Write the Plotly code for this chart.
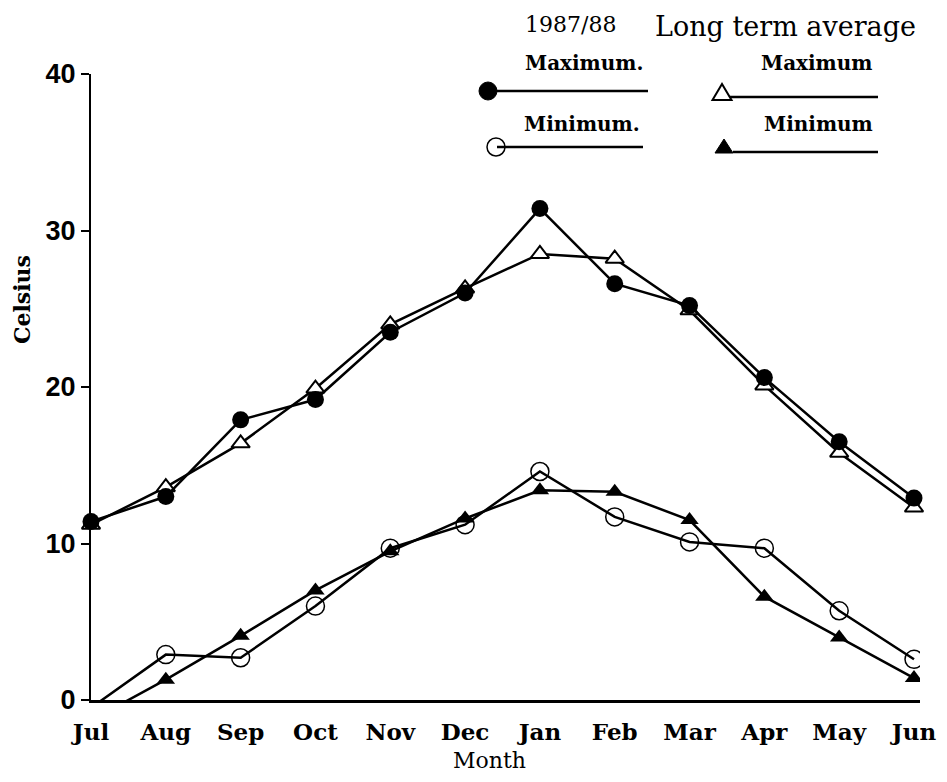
import plotly.graph_objects as go

# ---- data ----
months = ["Jul", "Aug", "Sep", "Oct", "Nov", "Dec", "Jan", "Feb", "Mar", "Apr", "May", "Jun"]
max_1987_88 = [11.4, 13.0, 17.9, 19.2, 23.5, 26.0, 31.4, 26.6, 25.2, 20.6, 16.5, 12.9]
max_long_term = [11.2, 13.6, 16.4, 19.9, 24.0, 26.3, 28.5, 28.2, 24.9, 20.1, 15.8, 12.3]
min_1987_88 = [-0.5, 2.9, 2.7, 6.0, 9.7, 11.2, 14.6, 11.7, 10.1, 9.7, 5.7, 2.6]
min_long_term = [-1.3, 1.3, 4.1, 7.0, 9.5, 11.6, 13.4, 13.3, 11.5, 6.6, 4.0, 1.4]
y_ticks = [0, 10, 20, 30, 40]

# page body has an 8px margin: figure sized to fit the window
OFF = 8
W, H = 947 - 2 * OFF, 782 - 2 * OFF
SERIF = "DejaVu Serif"


def px(x):
    return (x - OFF) / W


def py(y):
    return 1 - (y - OFF) / H


fig = go.Figure()

line_style = dict(color="black", width=2.5)

fig.add_trace(go.Scatter(
    x=months, y=max_long_term, mode="lines+markers", name="Maximum (long term)",
    line=line_style, cliponaxis=False,
    marker=dict(symbol="triangle-up", size=16, color="white",
                line=dict(color="black", width=2))))
fig.add_trace(go.Scatter(
    x=months, y=max_1987_88, mode="lines+markers", name="Maximum. (1987/88)",
    line=line_style, cliponaxis=False,
    marker=dict(symbol="circle", size=17, color="black")))
fig.add_trace(go.Scatter(
    x=months, y=min_long_term, mode="lines+markers", name="Minimum (long term)",
    line=line_style, cliponaxis=True,
    marker=dict(symbol="triangle-up", size=16, color="black")))
fig.add_trace(go.Scatter(
    x=months, y=min_1987_88, mode="lines+markers", name="Minimum. (1987/88)",
    line=line_style, cliponaxis=True,
    marker=dict(symbol="circle-open", size=18, color="black",
                line=dict(color="black", width=1.5))))

x0_px, x11_px, xend_px = 91, 914, 920
unit = (x11_px - x0_px) / 11.0
xmax = (xend_px - x0_px) / unit

fig.update_layout(
    width=W, height=H,
    margin=dict(l=0, r=0, t=0, b=0, autoexpand=False),
    paper_bgcolor="white", plot_bgcolor="white",
    showlegend=False,
    xaxis=dict(
        domain=[px(x0_px), px(xend_px)], range=[0, xmax],
        type="category", categoryorder="array", categoryarray=months,
        automargin=False,
        showline=True, linecolor="black", linewidth=2.5,
        showgrid=False, zeroline=False,
        ticks="outside", ticklen=10, tickcolor="rgba(0,0,0,0)",
        tickfont=dict(family=SERIF, size=23, color="black", weight="bold"),
    ),
    yaxis=dict(
        domain=[py(700), py(74)], range=[0, 40],
        tickvals=y_ticks, ticktext=[str(v) for v in y_ticks],
        automargin=False,
        showline=True, linecolor="black", linewidth=2,
        showgrid=False, zeroline=False,
        ticks="outside", ticklen=8, tickwidth=1.5, tickcolor="black",
        tickfont=dict(family="Liberation Sans", size=27, color="black", weight="bold"),
    ),
)

annotations = [
    dict(text="Celsius", x=px(22), y=py(300), textangle=-90,
         font=dict(family=SERIF, size=22, color="black", weight="bold")),
    dict(text="Month", x=px(490), y=py(760),
         font=dict(family=SERIF, size=22, color="black")),
    dict(text="1987/88", x=px(570), y=py(25),
         font=dict(family=SERIF, size=22, color="black")),
    dict(text="Long term average", x=px(785), y=py(26),
         font=dict(family=SERIF, size=27, color="black")),
    dict(text="Maximum.", x=px(584), y=py(63),
         font=dict(family=SERIF, size=20, color="black", weight="bold")),
    dict(text="Minimum.", x=px(582), y=py(124),
         font=dict(family=SERIF, size=20, color="black", weight="bold")),
    dict(text="Maximum", x=px(816), y=py(63),
         font=dict(family=SERIF, size=20, color="black", weight="bold")),
    dict(text="Minimum", x=px(818), y=py(124),
         font=dict(family=SERIF, size=20, color="black", weight="bold")),
]
for a in annotations:
    a.update(xref="paper", yref="paper", showarrow=False, xanchor="center", yanchor="middle")
fig.update_layout(annotations=annotations)

shapes = []
# legend sample lines
for (xa, xb, yy) in [(488, 648, 91), (497, 643, 147), (730, 878, 97), (733, 878, 152)]:
    shapes.append(dict(type="line", xref="paper", yref="paper",
                       x0=px(xa), x1=px(xb), y0=py(yy), y1=py(yy),
                       line=dict(color="black", width=2.5)))
# filled circle
shapes.append(dict(type="circle", xref="paper", yref="paper",
                   x0=px(479), x1=px(497), y0=py(100), y1=py(82),
                   fillcolor="black", line=dict(color="black", width=1)))
# open circle
shapes.append(dict(type="circle", xref="paper", yref="paper",
                   x0=px(487), x1=px(505), y0=py(156), y1=py(138),
                   fillcolor="rgba(0,0,0,0)", line=dict(color="black", width=1.5)))


def tri_path(cx, ybase, w, h):
    return (f"M {px(cx - w / 2)} {py(ybase)} L {px(cx + w / 2)} {py(ybase)} "
            f"L {px(cx)} {py(ybase - h)} Z")


shapes.append(dict(type="path", xref="paper", yref="paper",
                   path=tri_path(722, 100, 19, 16),
                   fillcolor="white", line=dict(color="black", width=2)))
shapes.append(dict(type="path", xref="paper", yref="paper",
                   path=tri_path(724, 153, 18, 14),
                   fillcolor="black", line=dict(color="black", width=1)))
fig.update_layout(shapes=shapes)

fig.write_html("out.html")
